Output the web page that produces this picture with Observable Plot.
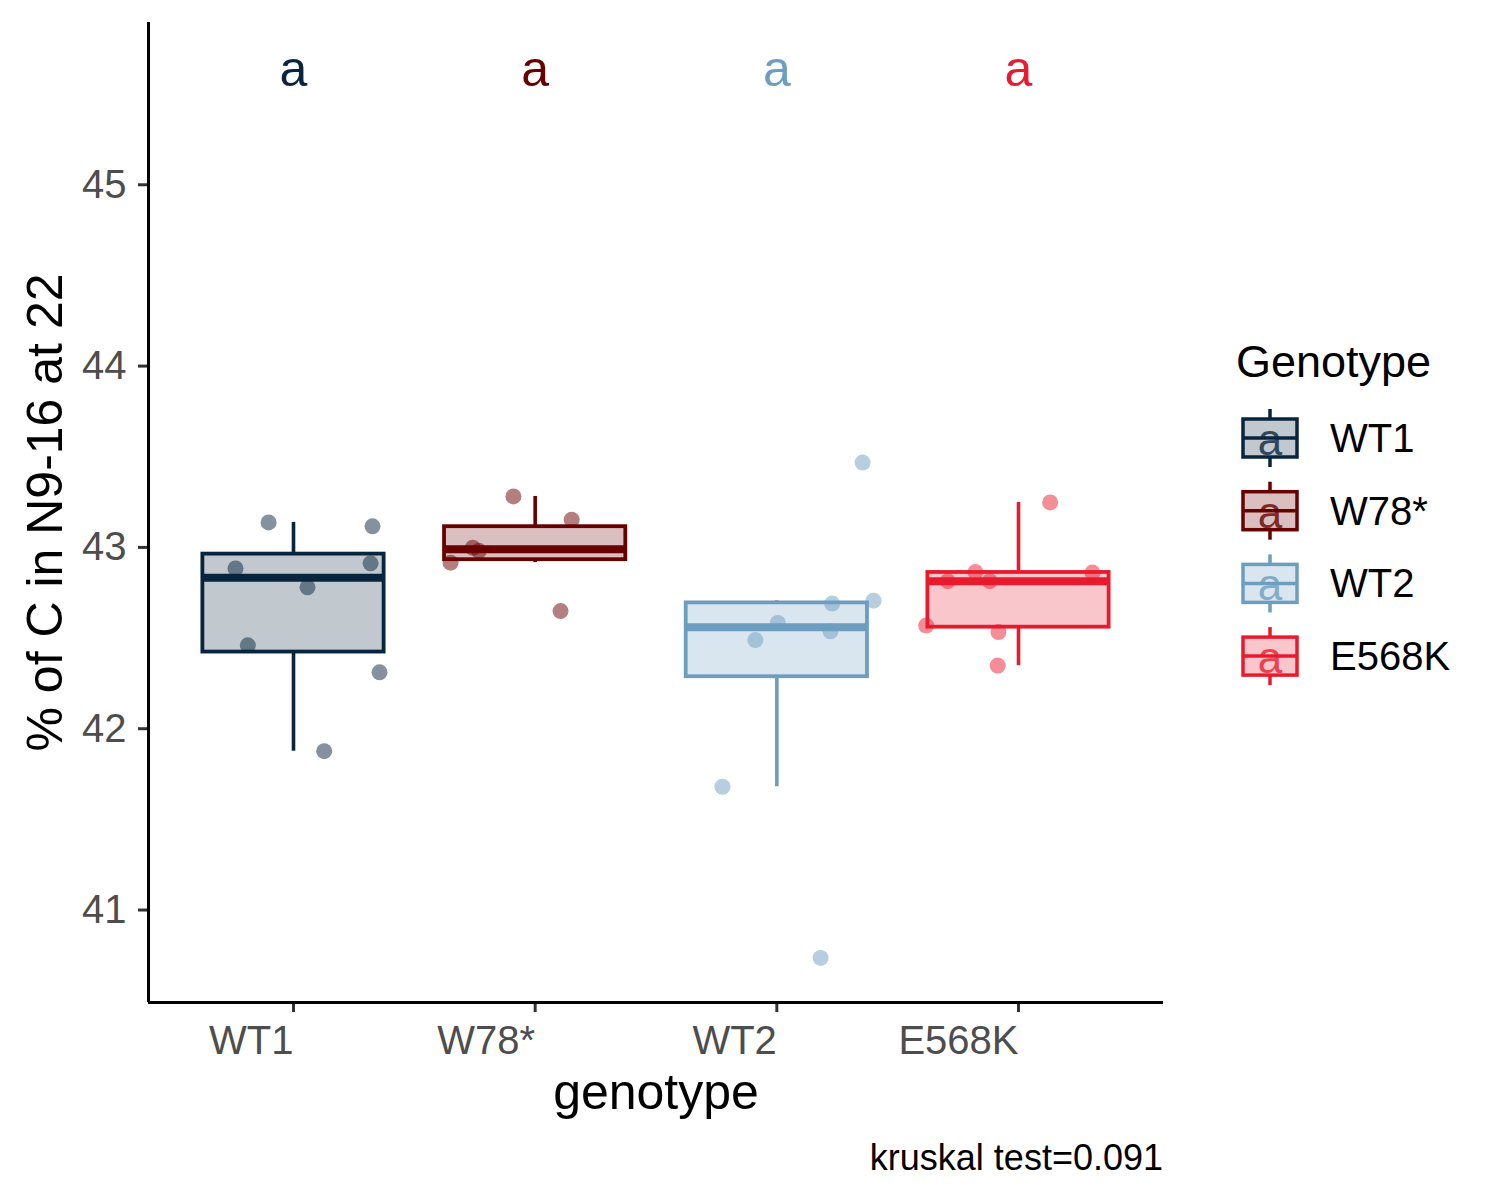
<!DOCTYPE html>
<html>
<head>
<meta charset="utf-8">
<script src="https://cdn.jsdelivr.net/npm/d3@7"></script>
<script src="https://cdn.jsdelivr.net/npm/@observablehq/plot@0.6"></script>
<style>
  body { margin: 0; background: #fff; }
  #wrap { position: relative; width: 1500px; height: 1200px; font-family: "Liberation Sans", Arial, sans-serif; }
  #wrap > svg { position: absolute; left: 0; top: 0; }
  g[aria-label="x-axis label"], g[aria-label="y-axis label"] { font-size: 50px; fill: #000; }
</style>
</head>
<body>
<div id="wrap"></div>
<script>
// ---- data ----
const genotypes = ["WT1", "W78*", "WT2", "E568K"];
const colors = ["#08253d", "#680000", "#6d9dbf", "#e81b2e"];
const letters = ["a", "a", "a", "a"];
const letterY = 45.633;

const valuesWT1 = [43.138, 42.884, 42.780, 42.460, 43.116, 42.912, 42.311, 41.876];
const jitterWT1 = [-0.103, -0.24, 0.058, -0.189, 0.327, 0.319, 0.356, 0.127];
const valuesW78 = [43.281, 43.153, 42.998, 42.981, 42.916, 42.649];
const jitterW78 = [-0.09, 0.151, -0.258, -0.233, -0.35, 0.105];
const valuesWT2 = [43.468, 42.706, 42.690, 42.583, 42.537, 42.489, 41.68, 40.736];
const jitterWT2 = [0.355, 0.40, 0.229, 0.004, 0.222, -0.089, -0.225, 0.181];
const valuesE568K = [43.248, 42.864, 42.861, 42.814, 42.814, 42.569, 42.533, 42.348];
const jitterE568K = [0.131, -0.178, 0.306, -0.293, -0.119, -0.382, -0.083, -0.086];

const yTicks = [41, 42, 43, 44, 45];
const yDomain = [40.49, 45.895];
const xDomain = [0.4, 4.6];
const xLabel = "genotype";
const yLabel = "% of C in N9-16 at 22";
const legendTitle = "Genotype";
const caption = "kruskal test=0.091";

// ---- tables built from the arrays ----
const groupValues = [valuesWT1, valuesW78, valuesWT2, valuesE568K];
const groupJitter = [jitterWT1, jitterW78, jitterWT2, jitterE568K];
const boxWidth = 0.75;

const points = [];
groupValues.forEach((vals, i) => vals.forEach((v, j) => points.push({
  genotype: genotypes[i], pos: i + 1, jitter: groupJitter[i][j], value: v
})));

const stats = groupValues.map((vals, i) => {
  const s = vals.slice().sort(d3.ascending);
  const q1 = d3.quantile(s, 0.25), med = d3.quantile(s, 0.5), q3 = d3.quantile(s, 0.75);
  const iqr = q3 - q1;
  const lo = d3.min(s.filter(v => v >= q1 - 1.5 * iqr));
  const hi = d3.max(s.filter(v => v <= q3 + 1.5 * iqr));
  return {genotype: genotypes[i], pos: i + 1, q1, med, q3, lo, hi};
});

const FONT = '"Liberation Sans", Arial, sans-serif';

const plot = Plot.plot({
  width: 1500,
  height: 1200,
  marginLeft: 148,
  marginRight: 337,
  marginTop: 22,
  marginBottom: 198,
  style: {fontFamily: FONT, fontSize: "40px", background: "white", overflow: "visible"},
  x: {type: "linear", domain: xDomain},
  y: {domain: yDomain},
  color: {domain: genotypes, range: colors},
  marks: [
    Plot.axisY({ticks: yTicks, tickFormat: d => String(d), tickSize: 10, tickPadding: 12, fontSize: 40,
      stroke: "#333333", fill: "#4d4d4d", strokeWidth: 3,
      label: yLabel, labelAnchor: "center", labelOffset: 122, labelArrow: "none"}),
    Plot.axisX({ticks: [1, 2, 3, 4], tickFormat: d => genotypes[d - 1], tickSize: 10, tickPadding: 13,
      fontSize: 40, textAnchor: "end", stroke: "#333333", fill: "#4d4d4d", strokeWidth: 3,
      label: xLabel, labelAnchor: "center", labelOffset: 106, labelArrow: "none"}),
    Plot.ruleX([xDomain[0]], {stroke: "#000", strokeWidth: 3}),
    Plot.ruleY([yDomain[0]], {stroke: "#000", strokeWidth: 3}),
    // whiskers
    Plot.ruleX(stats, {x: "pos", y1: "q3", y2: "hi", stroke: "genotype", strokeWidth: 3.6}),
    Plot.ruleX(stats, {x: "pos", y1: "lo", y2: "q1", stroke: "genotype", strokeWidth: 3.6}),
    // boxes
    Plot.rect(stats, {x1: d => d.pos - boxWidth / 2, x2: d => d.pos + boxWidth / 2, y1: "q1", y2: "q3",
      fill: "genotype", fillOpacity: 0.25, stroke: "genotype", strokeWidth: 3.8}),
    // medians
    Plot.ruleY(stats, {y: "med", x1: d => d.pos - boxWidth / 2, x2: d => d.pos + boxWidth / 2,
      stroke: "genotype", strokeWidth: 8}),
    // jittered points
    Plot.dot(points, {x: d => d.pos + d.jitter, y: "value", r: 8, fill: "genotype", fillOpacity: 0.5, stroke: null}),
    // letters
    Plot.text(genotypes, {x: (d, i) => i + 1, y: () => letterY, text: (d, i) => letters[i],
      fill: d => d, fontSize: 50, lineAnchor: "middle", textAnchor: "middle"})
  ]
});

const wrap = document.getElementById("wrap");
wrap.appendChild(plot);

// ---- legend and caption overlay ----
const ov = d3.create("svg")
  .attr("width", 1500).attr("height", 1200)
  .style("font-family", FONT)
  .style("pointer-events", "none");

ov.append("text").attr("x", 1236).attr("y", 377).attr("font-size", 45).attr("fill", "#000").text(legendTitle);

const keyX = 1270, keyW = 54, keyH = 38, key0 = 438, keyStep = 72.7;
genotypes.forEach((g, i) => {
  const cy = key0 + i * keyStep, c = colors[i];
  const k = ov.append("g");
  k.append("line").attr("x1", keyX).attr("x2", keyX).attr("y1", cy - 29).attr("y2", cy - keyH / 2)
    .attr("stroke", c).attr("stroke-width", 3.5);
  k.append("line").attr("x1", keyX).attr("x2", keyX).attr("y1", cy + keyH / 2).attr("y2", cy + 29)
    .attr("stroke", c).attr("stroke-width", 3.5);
  k.append("rect").attr("x", keyX - keyW / 2).attr("y", cy - keyH / 2).attr("width", keyW).attr("height", keyH)
    .attr("fill", c).attr("fill-opacity", 0.25).attr("stroke", c).attr("stroke-width", 3.5);
  k.append("line").attr("x1", keyX - keyW / 2).attr("x2", keyX + keyW / 2).attr("y1", cy).attr("y2", cy)
    .attr("stroke", c).attr("stroke-width", 3.5);
  k.append("text").attr("x", keyX).attr("y", cy + 17).attr("text-anchor", "middle")
    .attr("font-size", 44).attr("fill", c).attr("fill-opacity", 0.8).text(letters[i]);
  ov.append("text").attr("x", 1330).attr("y", cy + 14).attr("font-size", 40).attr("fill", "#000").text(g);
});

ov.append("text").attr("x", 1163).attr("y", 1170).attr("text-anchor", "end")
  .attr("font-size", 36).attr("fill", "#000").text(caption);

wrap.appendChild(ov.node());
</script>
</body>
</html>
